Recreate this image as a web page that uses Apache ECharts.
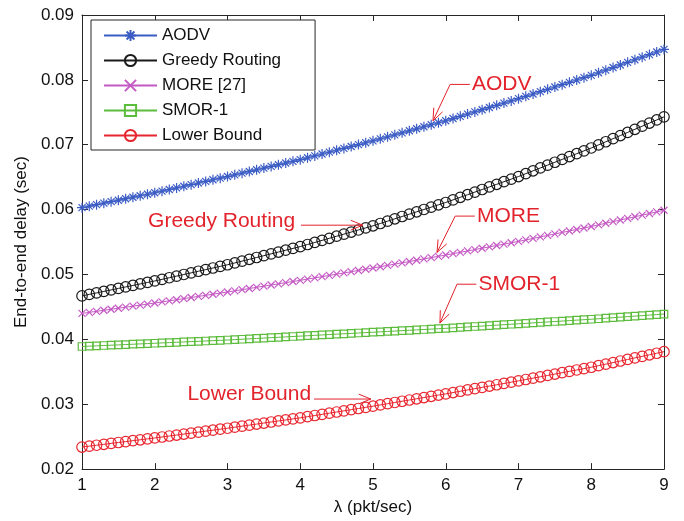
<!DOCTYPE html>
<html>
<head>
<meta charset="utf-8">
<script src="https://cdn.jsdelivr.net/npm/echarts@6/dist/echarts.min.js"></script>
<style>
html,body{margin:0;padding:0;background:#fff;}
#chart{width:684px;height:521px;}
</style>
</head>
<body>
<div id="chart"></div>
<script>
// ---- data ----
const lambda = Array.from({length: 81}, (_, i) => +(1 + i * 0.1).toFixed(1));
const xTicks = [1, 2, 3, 4, 5, 6, 7, 8, 9];
const yTicks = [0.02, 0.03, 0.04, 0.05, 0.06, 0.07, 0.08, 0.09];
const seriesNames = ['AODV', 'Greedy Routing', 'MORE [27]', 'SMOR-1', 'Lower Bound'];

const aodv = [
0.0603,0.06053,0.06076,0.06099,0.06122,0.06145,0.06168,0.06191,0.06214,0.06237,
0.0626,0.06285,0.0631,0.06335,0.0636,0.06385,0.0641,0.06435,0.0646,0.06485,
0.0651,0.06536,0.06562,0.06588,0.06614,0.0664,0.06666,0.06692,0.06718,0.06744,
0.0677,0.06799,0.06828,0.06857,0.06886,0.06915,0.06944,0.06973,0.07002,0.07031,
0.0706,0.07091,0.07122,0.07153,0.07184,0.07215,0.07246,0.07277,0.07308,0.07339,
0.0737,0.07404,0.07438,0.07472,0.07506,0.0754,0.07574,0.07608,0.07642,0.07676,
0.0771,0.07746,0.07782,0.07818,0.07854,0.0789,0.07926,0.07962,0.07998,0.08034,
0.0807,0.0811,0.0815,0.0819,0.0823,0.0827,0.0831,0.0835,0.0839,0.0843,
0.0847];
const greedy = [
0.0467,0.04693,0.04716,0.04739,0.04762,0.04785,0.04808,0.04831,0.04854,0.04877,
0.049,0.04925,0.0495,0.04975,0.05,0.05025,0.0505,0.05075,0.051,0.05125,
0.0515,0.05178,0.05206,0.05234,0.05262,0.0529,0.05318,0.05346,0.05374,0.05402,
0.0543,0.05462,0.05494,0.05526,0.05558,0.0559,0.05622,0.05654,0.05686,0.05718,
0.0575,0.05786,0.05822,0.05858,0.05894,0.0593,0.05966,0.06002,0.06038,0.06074,
0.0611,0.0615,0.0619,0.0623,0.0627,0.0631,0.0635,0.0639,0.0643,0.0647,
0.0651,0.06554,0.06598,0.06642,0.06686,0.0673,0.06774,0.06818,0.06862,0.06906,
0.0695,0.06998,0.07046,0.07094,0.07142,0.0719,0.07238,0.07286,0.07334,0.07382,
0.0743];
const more = [
0.044,0.04416,0.04432,0.04448,0.04464,0.0448,0.04496,0.04512,0.04528,0.04544,
0.0456,0.04577,0.04594,0.04611,0.04628,0.04645,0.04662,0.04679,0.04696,0.04713,
0.0473,0.04748,0.04766,0.04784,0.04802,0.0482,0.04838,0.04856,0.04874,0.04892,
0.0491,0.04929,0.04948,0.04967,0.04986,0.05005,0.05024,0.05043,0.05062,0.05081,
0.051,0.0512,0.0514,0.0516,0.0518,0.052,0.0522,0.0524,0.0526,0.0528,
0.053,0.05321,0.05342,0.05363,0.05384,0.05405,0.05426,0.05447,0.05468,0.05489,
0.0551,0.05533,0.05556,0.05579,0.05602,0.05625,0.05648,0.05671,0.05694,0.05717,
0.0574,0.05765,0.0579,0.05815,0.0584,0.05865,0.0589,0.05915,0.0594,0.05965,
0.0599];
const smor1 = [
0.0389,0.03895,0.039,0.03905,0.0391,0.03915,0.0392,0.03925,0.0393,0.03935,
0.0394,0.03945,0.0395,0.03955,0.0396,0.03965,0.0397,0.03975,0.0398,0.03985,
0.0399,0.03996,0.04002,0.04008,0.04014,0.0402,0.04026,0.04032,0.04038,0.04044,
0.0405,0.04056,0.04062,0.04068,0.04074,0.0408,0.04086,0.04092,0.04098,0.04104,
0.0411,0.04116,0.04122,0.04128,0.04134,0.0414,0.04146,0.04152,0.04158,0.04164,
0.0417,0.04177,0.04184,0.04191,0.04198,0.04205,0.04212,0.04219,0.04226,0.04233,
0.0424,0.04247,0.04254,0.04261,0.04268,0.04275,0.04282,0.04289,0.04296,0.04303,
0.0431,0.04318,0.04326,0.04334,0.04342,0.0435,0.04358,0.04366,0.04374,0.04382,
0.0439];
const lowerBound = [
0.0234,0.02354,0.02368,0.02382,0.02396,0.0241,0.02424,0.02438,0.02452,0.02466,
0.0248,0.02495,0.0251,0.02525,0.0254,0.02555,0.0257,0.02585,0.026,0.02615,
0.0263,0.02646,0.02662,0.02678,0.02694,0.0271,0.02726,0.02742,0.02758,0.02774,
0.0279,0.02808,0.02826,0.02844,0.02862,0.0288,0.02898,0.02916,0.02934,0.02952,
0.0297,0.02989,0.03008,0.03027,0.03046,0.03065,0.03084,0.03103,0.03122,0.03141,
0.0316,0.0318,0.032,0.0322,0.0324,0.0326,0.0328,0.033,0.0332,0.0334,
0.0336,0.03381,0.03402,0.03423,0.03444,0.03465,0.03486,0.03507,0.03528,0.03549,
0.0357,0.03594,0.03618,0.03642,0.03666,0.0369,0.03714,0.03738,0.03762,0.03786,
0.0381];

// annotation labels (data coordinates)
const annotations = [
  {text: 'AODV', anchor: [6.36, 0.0793], align: 'left', path: [[6.33, 0.0793], [6.06, 0.0793], [5.825, 0.0737]]},
  {text: 'Greedy Routing', anchor: [3.93, 0.0582], align: 'right', path: [[4.01, 0.0576], [4.86, 0.0576]]},
  {text: 'MORE', anchor: [6.43, 0.0590], align: 'left', path: [[6.40, 0.0590], [6.13, 0.0590], [5.88, 0.0534]]},
  {text: 'SMOR-1', anchor: [6.45, 0.0485], align: 'left', path: [[6.42, 0.0485], [6.155, 0.0485], [5.92, 0.0425]]},
  {text: 'Lower Bound', anchor: [4.15, 0.0315], align: 'right', path: [[4.19, 0.0308], [4.97, 0.0308]]}
];

// ---- styles ----
const colors = ['#3b5cc4', '#1a1a1a', '#c459c4', '#5cbc3c', '#e8262f'];
const symbols = [
  'path://M-1,0L1,0M0,-1L0,1M-0.7,-0.7L0.7,0.7M-0.7,0.7L0.7,-0.7',
  'path://M1,0A1,1,0,1,1,-1,0A1,1,0,1,1,1,0Z',
  'path://M-1,-1L1,1M-1,1L1,-1',
  'path://M-1,-1L1,-1L1,1L-1,1Z',
  'path://M1,0A1,1,0,1,1,-1,0A1,1,0,1,1,1,0Z'
];
const symbolSizes = [10, 10.5, 7, 7.5, 10.5];
const allValues = [aodv, greedy, more, smor1, lowerBound];
const FONT = '"Liberation Sans", Arial, Helvetica, sans-serif';

const chart = echarts.init(document.getElementById('chart'), null, {renderer: 'canvas'});

const axisCommon = {
  axisLine: {show: true, lineStyle: {color: '#262626', width: 1}},
  axisTick: {show: true, inside: true, length: 6, lineStyle: {color: '#262626'}},
  splitLine: {show: false}
};

const option = {
  animation: false,
  backgroundColor: '#fff',
  textStyle: {fontFamily: FONT},
  grid: {left: 82, right: 20, top: 15, bottom: 47.5, containLabel: false},
  legend: {
    orient: 'vertical', left: 91, top: 20,
    itemWidth: 53, itemHeight: 14, itemGap: 8,
    padding: [7, 34, 6, 12],
    backgroundColor: '#fff', borderColor: '#262626', borderWidth: 1,
    textStyle: {fontSize: 17, color: '#111', fontFamily: FONT},
    data: seriesNames
  },
  xAxis: [
    Object.assign({type: 'value', min: 1, max: 9, interval: 1, position: 'bottom',
      name: 'λ (pkt/sec)', nameLocation: 'middle', nameGap: 28,
      nameTextStyle: {fontSize: 17, color: '#111', fontFamily: FONT},
      axisLabel: {fontSize: 17, color: '#111', margin: 8, fontFamily: FONT}}, axisCommon),
    Object.assign({type: 'value', min: 1, max: 9, interval: 1, position: 'top',
      axisLabel: {show: false}}, axisCommon)
  ],
  yAxis: [
    Object.assign({type: 'value', min: 0.02, max: 0.09, interval: 0.01, position: 'left',
      name: 'End-to-end delay (sec)', nameLocation: 'middle', nameGap: 52,
      nameTextStyle: {fontSize: 17, color: '#111', fontFamily: FONT},
      axisLabel: {fontSize: 17, color: '#111', margin: 8, fontFamily: FONT,
        formatter: v => v.toFixed(2)}}, axisCommon),
    Object.assign({type: 'value', min: 0.02, max: 0.09, interval: 0.01, position: 'right',
      axisLabel: {show: false}}, axisCommon)
  ],
  series: seriesNames.map((name, k) => ({
    name: name,
    type: 'line',
    xAxisIndex: 0, yAxisIndex: 0,
    data: lambda.map((x, i) => [x, allValues[k][i]]),
    symbol: symbols[k],
    symbolSize: symbolSizes[k],
    showAllSymbol: true,
    lineStyle: {color: colors[k], width: 1},
    itemStyle: {color: 'rgba(0,0,0,0)', borderColor: colors[k], borderWidth: 1.2},
    emphasis: {disabled: true},
    z: 2 + k
  }))
};
chart.setOption(option);

// annotations with arrows
const RED = '#e3232c';
const graphics = [];
annotations.forEach(a => {
  const pts = a.path.map(p => chart.convertToPixel({gridIndex: 0}, p));
  graphics.push({type: 'polyline', shape: {points: pts}, style: {stroke: RED, lineWidth: 1, fill: null}, z: 100});
  const tip = pts[pts.length - 1], prev = pts[pts.length - 2];
  const dx = tip[0] - prev[0], dy = tip[1] - prev[1];
  const len = Math.hypot(dx, dy), ux = dx / len, uy = dy / len;
  const L = 13, ang = 22 * Math.PI / 180;
  const b1 = [tip[0] - L * (ux * Math.cos(ang) - uy * Math.sin(ang)), tip[1] - L * (uy * Math.cos(ang) + ux * Math.sin(ang))];
  const b2 = [tip[0] - L * (ux * Math.cos(ang) + uy * Math.sin(ang)), tip[1] - L * (uy * Math.cos(ang) - ux * Math.sin(ang))];
  graphics.push({type: 'polyline', shape: {points: [b1, tip, b2]}, style: {stroke: RED, lineWidth: 1, fill: null}, z: 100});
  const tp = chart.convertToPixel({gridIndex: 0}, a.anchor);
  graphics.push({type: 'text', x: tp[0], y: tp[1], z: 100,
    style: {text: a.text, fill: RED, font: '21px ' + FONT,
      textAlign: a.align, textVerticalAlign: 'middle', align: a.align, verticalAlign: 'middle'}});
});
chart.setOption({graphic: graphics});
</script>
</body>
</html>
